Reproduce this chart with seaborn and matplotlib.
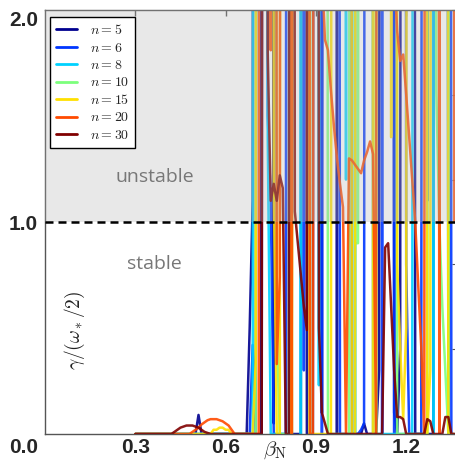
import numpy as np
import pandas as pd
import matplotlib
matplotlib.use("Agg")
import matplotlib.pyplot as plt
import matplotlib.transforms as mtransforms
from matplotlib.lines import Line2D
import seaborn as sns

# sampling grid of beta_N (0.30 ... 1.36, step 0.01)
beta = [round(0.30 + 0.01 * i, 2) for i in range(107)]

labels = ["$n=5$", "$n=6$", "$n=8$", "$n=10$", "$n=15$", "$n=20$", "$n=30$"]
colors = ["#00008f", "#0036ff", "#00d2ff", "#7cff7c", "#ffe000", "#ff4a00", "#800000"]

# growth rates, normalised (20 = far off-scale)
g_n5 = [0, 0, 0, 0, 0, 0, 0, 0, 0, 0, 0, 0, 0, 0, 0, 0, 0, 0, 0, 0, 0, 0.09, 0, 0, 0,
        0, 0, 0, 0, 0, 0, 0, 0, 0, 0,
        0, 0, 0, 0.5, 1.1, 20, 20, 0, 20, 20,
        20, 0.05, 20, 20, 20, 20, 20, 0, 0, 0,
        0, 20, 0, 0, 0, 20, 20, 0.1, 20, 20,
        20, 20, 0, 20, 20, 20, 20, 0, 0, 0,
        0, 0.05, 0, 0, 0, 0, 0.3, 20, 20, 20,
        20, 0.1, 0, 0.4, 20, 20, 20, 20, 0, 0,
        0, 0, 0, 0, 0, 20, 20, 20, 20, 0,
        20, 20]
g_n6 = [0, 0, 0, 0, 0, 0, 0, 0, 0, 0, 0, 0, 0, 0, 0, 0, 0, 0, 0, 0, 0, 0, 0, 0, 0,
        0, 0, 0, 0, 0, 0, 0, 0, 0, 0,
        0, 0, 0, 0, 0.42, 0, 20, 20, 20, 1.5,
        1.1, 0, 0, 0, 0, 0, 20, 20, 20, 20,
        20, 0.3, 20, 20, 20, 20, 20, 0, 20, 20,
        20, 20, 20, 0, 0, 0, 0, 0, 0, 0,
        0.02, 0.05, 20, 20, 20, 20, 20, 0, 20, 20,
        20, 0, 20, 20, 20, 0.8, 0, 0, 0, 0,
        0, 20, 1.1, 20, 20, 20, 20, 20, 20, 20,
        0, 0]
g_n8 = [0, 0, 0, 0, 0, 0, 0, 0, 0, 0, 0, 0, 0, 0, 0, 0, 0, 0, 0, 0, 0, 0, 0, 0, 0,
        0, 0, 0, 0, 0, 0, 0, 0, 0, 0,
        0, 0, 0, 0, 0, 20, 20, 20, 20, 1.4,
        0, 0, 0, 0, 0, 0, 0, 20, 20, 20,
        0, 20, 20, 20, 20, 20, 0.23, 20, 20, 20,
        20, 20, 20, 20, 20, 1.2, 20, 20, 0, 20,
        20, 20, 20, 20, 0, 0, 0, 0, 0, 0,
        0, 0, 0, 0, 0, 0, 0, 0, 20, 20,
        20, 20, 20, 20, 0, 20, 20, 20, 20, 0,
        20, 20]
g_n10 = [0, 0, 0, 0, 0, 0, 0, 0, 0, 0, 0, 0, 0, 0, 0, 0, 0, 0, 0, 0, 0, 0, 0, 0, 0,
         0, 0, 0, 0, 0, 0, 0, 0, 0, 0,
         0, 0, 0, 0, 0, 0, 20, 20, 20, 20,
         20, 20, 0.5, 0, 0, 0, 0, 0, 20, 20,
         20, 20, 20, 0, 20, 20, 20, 20, 20, 0,
         0, 0, 0, 0, 0, 0, 0, 20, 0.9, 0.9,
         20, 20, 20, 20, 20, 0, 20, 20, 20, 20,
         20, 20, 0, 0, 0, 0, 0, 0, 0, 0,
         0, 0, 0, 20, 20, 1.62, 1.0, 0.6, 0.3, 0,
         20, 20]
g_n15 = [0, 0, 0, 0, 0, 0, 0, 0, 0, 0, 0, 0, 0, 0, 0, 0, 0, 0, 0, 0, 0, 0, 0, 0, 0,
         0, 0.02, 0.02, 0.03, 0.03, 0.02, 0.02, 0, 0, 0,
         0, 0, 0, 0, 0, 0.34, 20, 20, 20, 20,
         20, 1.2, 0, 0, 20, 20, 20, 0, 20, 20,
         20, 20, 20, 0, 0, 0, 0, 0, 0, 0,
         0, 20, 20, 20, 20, 20, 20, 0, 0, 20,
         20, 20, 20, 20, 0, 20, 20, 20, 20, 20,
         1.4, 20, 0.8, 0.41, 0.07, 0.5, 20, 20, 20, 20,
         20, 20, 0, 0.3, 20, 20, 20, 20, 20, 0,
         0, 0]
g_n20 = [0, 0, 0, 0, 0, 0, 0, 0, 0, 0, 0, 0, 0, 0, 0, 0, 0, 0,
         0, 0.01, 0.02, 0.03, 0.045, 0.055, 0.065, 0.07, 0.07, 0.07, 0.065, 0.06,
         0.05, 0.04, 0.02, 0, 0,
         0, 0, 0, 0, 0, 0, 0, 20, 20, 20,
         1.81, 20, 0.33, 0.74, 20, 20, 20, 0, 20, 20,
         20, 20, 20, 0, 0, 20, 20, 2.2, 1.86, 1.81,
         1.62, 1.45, 1.3, 1.18, 1.07, 0, 1.3, 1.29, 1.27, 1.25,
         1.23, 1.29, 1.33, 1.38, 1.32, 0, 20, 20, 20, 20,
         20, 2.2, 1.9, 1.76, 1.79, 1.6, 1.4, 1.2, 1.0, 0.7,
         0.41, 0, 20, 20, 20, 20, 0, 20, 20, 20,
         20, 1.0]
g_n30 = [0, 0, 0, 0, 0, 0, 0, 0, 0, 0, 0, 0,
         0, 0.01, 0.02, 0.03, 0.035, 0.04, 0.04, 0.04, 0.035, 0.03, 0.02, 0.01, 0.005, 0,
         0, 0, 0, 0, 0, 0, 0, 0, 0,
         0, 0, 0, 0, 0, 0, 0, 0, 20, 1.8,
         1.1, 1.18, 1.1, 1.22, 1.16, 0, 0, 20, 1.05, 0.9,
         0.75, 0.6, 0.49, 20, 20, 20, 0.5, 0.1, 0.05, 0,
         0, 0, 0, 0, 0, 0, 0, 0, 0, 0,
         0, 0, 0, 0, 0, 0, 0, 0, 0.88, 0.9,
         0.6, 0.3, 0.08, 0.08, 0.07, 0, 0, 0, 0, 0,
         0, 0, 0.07, 0.06, 0, 0, 0, 0, 0.08, 0.08,
         0, 0]

series = [g_n5, g_n6, g_n8, g_n10, g_n15, g_n20, g_n30]
frames = [pd.DataFrame({"beta": beta, "gamma": s, "n": lab}) for s, lab in zip(series, labels)]
df = pd.concat(frames, ignore_index=True)

sns.set_style("white")
plt.rcParams["mathtext.fontset"] = "cm"
plt.rcParams["font.family"] = ["Liberation Sans", "DejaVu Sans"]

fig = plt.figure(figsize=(4.56, 4.61), dpi=100)
ax = fig.add_axes([45 / 456, 27 / 461, 413 / 456, 424 / 461])

sns.lineplot(data=df, x="beta", y="gamma", hue="n", hue_order=labels, palette=colors,
             estimator=None, sort=False, lw=1.8, alpha=0.9, legend=False, ax=ax)

ax.set_xlim(0, 413 / 301)
ax.set_ylim(0, 2)
ax.axhspan(1, 2.2, color="#b4b4b4", alpha=0.3, lw=0, zorder=5)
ax.axhline(1, color="black", ls=(0, (3.2, 2.0)), lw=1.8, zorder=6)

ax.set_xlabel("")
ax.set_ylabel("")
ax.set_xticks([0.3, 0.6, 0.9, 1.2])
ax.set_xticklabels(["0.3", "0.6", "0.9", "1.2"], fontsize=15, fontweight="bold")
ax.set_yticks([0, 1, 2])
ax.set_yticklabels(["0.0", "1.0", "2.0"], fontsize=15, fontweight="bold")
ax.tick_params(axis="both", direction="in", length=4, width=1, color="#555555",
               top=True, pad=3)
ax.tick_params(axis="y", pad=5)

ylabs = ax.get_yticklabels()
ylabs[0].set_transform(ylabs[0].get_transform() +
                       mtransforms.ScaledTranslation(0, -0.115, fig.dpi_scale_trans))
ylabs[2].set_transform(ylabs[2].get_transform() +
                       mtransforms.ScaledTranslation(0, -0.085, fig.dpi_scale_trans))

sec = ax.secondary_yaxis("right")
sec.set_yticks([0.4, 0.8, 1.2, 1.6, 2.0])
sec.set_yticklabels([])
sec.tick_params(direction="in", length=4, color="#555555")

for sp in ax.spines.values():
    sp.set_color("#555555")
    sp.set_linewidth(1.0)
sec.spines["right"].set_color("#555555")

ax.text(0.365, 1.21, "unstable", fontsize=14, color="#777777", family="Open Sans",
        ha="center", va="center", zorder=7)
ax.text(0.364, 0.80, "stable", fontsize=14, color="#777777", family="Open Sans",
        ha="center", va="center", zorder=7)
ax.text(0.10, 0.49, r"$\gamma/(\omega_*/2)$", fontsize=14, color="#222222", rotation=90,
        ha="center", va="center", zorder=7)
fig.text(275 / 456, 1 - 450 / 461, r"$\beta_{\mathrm{N}}$", fontsize=15,
         ha="center", va="center")

handles = [Line2D([0], [0], color=c, lw=2.0) for c in colors]
leg = ax.legend(handles, labels, loc="upper left", bbox_to_anchor=(0.012, 0.984),
                borderaxespad=0, fontsize=10, frameon=True, fancybox=False,
                framealpha=1, edgecolor="black", handlelength=1.5,
                handletextpad=0.9, labelspacing=0.25, borderpad=0.45)
leg.get_frame().set_linewidth(1.0)
leg.set_zorder(10)

fig.savefig("out.png", dpi=100)
